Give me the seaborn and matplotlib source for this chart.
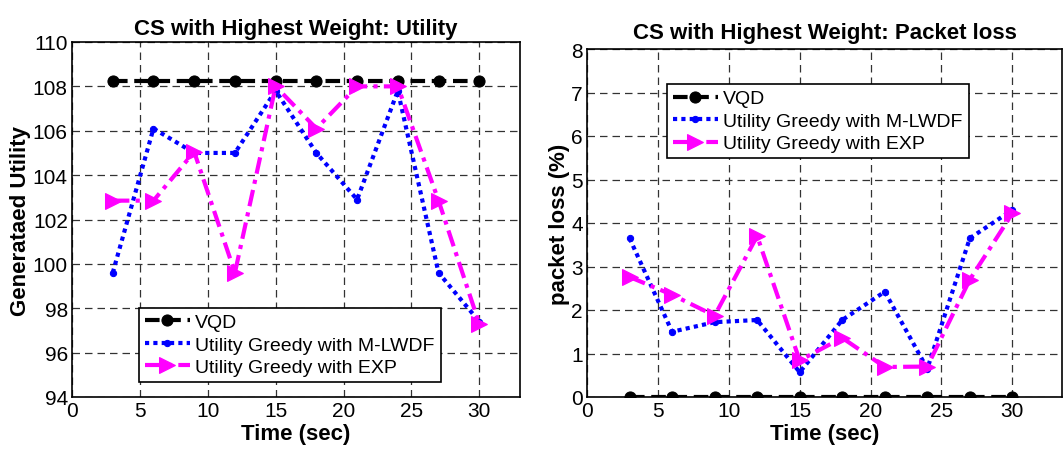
import numpy as np
import pandas as pd
import matplotlib
matplotlib.use("Agg")
import matplotlib.pyplot as plt
import seaborn as sns

time_sec = [3, 6, 9, 12, 15, 18, 21, 24, 27, 30]
series_names = ["VQD", "Utility Greedy with M-LWDF", "Utility Greedy with EXP"]

utility_vqd = [108.25] * 10
utility_mlwdf = [99.6, 106.1, 105.0, 105.0, 107.8, 105.0, 102.9, 107.8, 99.6, 97.4]
utility_exp = [102.85, 102.85, 105.05, 99.6, 108.0, 106.1, 108.0, 108.0, 102.85, 97.3]

loss_vqd = [0.0] * 10
loss_mlwdf = [3.65, 1.5, 1.72, 1.77, 0.57, 1.77, 2.42, 0.65, 3.65, 4.3]
loss_exp = [2.76, 2.35, 1.87, 3.7, 0.84, 1.36, 0.69, 0.7, 2.7, 4.22]

sns.set_style("white")
plt.rcParams['font.family'] = ['Liberation Sans', 'DejaVu Sans']
plt.rcParams['text.color'] = 'black'
plt.rcParams['axes.labelcolor'] = 'black'
plt.rcParams['xtick.color'] = 'black'
plt.rcParams['ytick.color'] = 'black'

fig = plt.figure(figsize=(10.64, 4.56), dpi=100)
ax1 = fig.add_axes([72/1064, 58/456, 448/1064, 355/456])
ax2 = fig.add_axes([587/1064, 58/456, 475/1064, 348/456])

styles = [
    dict(color="black", linestyle=(0, (3.5, 1.6)), linewidth=3, marker="o", markersize=8,
         markerfacecolor="black", markeredgecolor="black"),
    dict(color="#0000ff", linestyle=(0, (1, 1)), linewidth=3, marker="o", markersize=4.5,
         markerfacecolor="#0000ff", markeredgecolor="#0000ff"),
    dict(color="#ff00ff", linestyle=(0, (4, 1.5, 1, 1.5)), linewidth=3, marker=">", markersize=12,
         markerfacecolor="#ff00ff", markeredgecolor="#ff00ff"),
]

def draw(ax, ys):
    for name, y, st in zip(series_names, ys, styles):
        sns.lineplot(x=time_sec, y=y, ax=ax, label=name, **st)

draw(ax1, [utility_vqd, utility_mlwdf, utility_exp])
draw(ax2, [loss_vqd, loss_mlwdf, loss_exp])

for ax in (ax1, ax2):
    ax.set_xlim(0, 33 if ax is ax1 else 33.5)
    ax.set_xticks([0, 5, 10, 15, 20, 25, 30])
    ax.grid(True, color="#333333", linestyle=(0, (6, 4)), linewidth=0.9)
    ax.tick_params(direction="in", labelsize=15, length=4, colors="black", pad=3)
    for s in ax.spines.values():
        s.set_color("black")
        s.set_linewidth(1.2)
    ax.set_xlabel("Time (sec)", fontsize=16, fontweight="bold", labelpad=2, color="black")

ax1.set_ylim(94, 110)
ax1.set_yticks(np.arange(94, 111, 2))
ax2.set_ylim(0, 8)
ax2.set_yticks(np.arange(0, 9, 1))

ax1.set_ylabel("Generataed Utility", fontsize=16, fontweight="bold", labelpad=1, color="black")
ax2.set_ylabel("packet loss (%)", fontsize=16, fontweight="bold", labelpad=1, color="black")
ax1.set_title("CS with Highest Weight: Utility", fontsize=16, fontweight="bold", pad=6, color="black")
ax2.set_title("CS with Highest Weight: Packet loss", fontsize=16, fontweight="bold", pad=8, color="black")

leg_kw = dict(fontsize=14, frameon=True, fancybox=False, edgecolor="black", framealpha=1,
              handlelength=2.3, handletextpad=0.3, borderpad=0.3, labelspacing=0.25, borderaxespad=0)
l1 = ax1.legend(loc="lower left", bbox_to_anchor=((139-72)/448, (456-383-58)/355), **leg_kw)
l2 = ax2.legend(loc="upper left", bbox_to_anchor=((667-587)/475, 1-(93-58)/348), **leg_kw)
for l in (l1, l2):
    l.get_frame().set_linewidth(1.2)
    for t in l.get_texts():
        t.set_color("black")

fig.savefig("out.png", dpi=100)
